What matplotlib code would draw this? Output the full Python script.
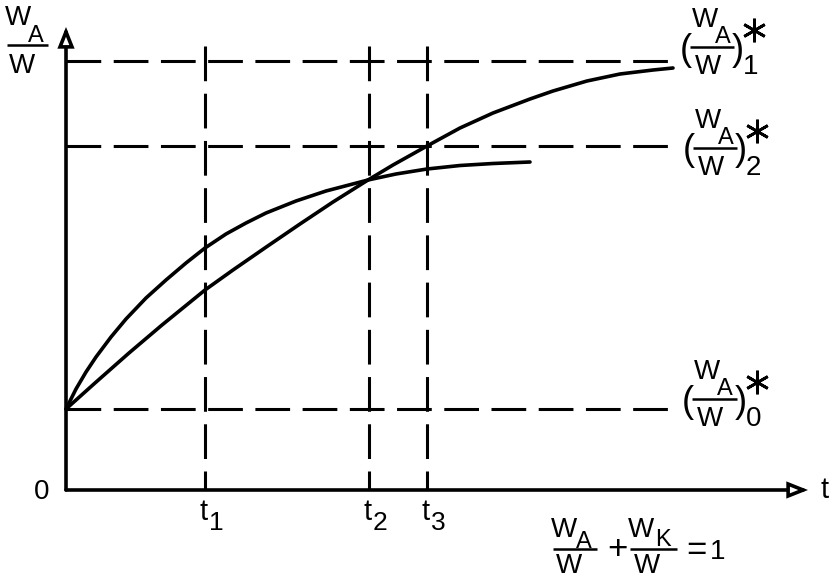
import matplotlib
matplotlib.use("Agg")
import matplotlib.pyplot as plt
from matplotlib.patches import FancyArrowPatch

plt.rcParams['font.family'] = ['Liberation Sans', 'DejaVu Sans']
plt.rcParams['lines.scale_dashes'] = False

# ---- data (diagram units, origin at the axes corner) ----
curve_a_x = [0, 10, 20, 30, 45, 60, 80, 100, 120, 139, 160, 180, 200, 230, 260,
             302, 330, 361, 394, 427, 464]
curve_a_y = [81, 101, 118, 133, 153, 171, 192, 210, 227, 242, 256, 267, 277, 289, 299,
             310, 316, 321, 324.5, 326.5, 328]

curve_b_x = [0, 29, 63, 96, 139, 167, 201, 234, 267, 302, 327, 361, 394, 427, 464,
             487, 521, 554, 587, 607]
curve_b_y = [81, 107, 137, 165, 200, 220, 243.5, 266, 288, 310, 325, 344, 362, 377, 391,
             399, 409, 416, 420, 422]

level_names = ['0', '2', '1']
level_values = [81, 344, 429]
t_names = ['1', '2', '3']
t_values = [139, 303, 361]

# ---- figure: one data unit == one pixel ----
fig = plt.figure(figsize=(8.32, 5.8), dpi=100)
ax = fig.add_axes([0, 0, 1, 1])
ax.set_xlim(-66, 766)
ax.set_ylim(-90, 490)
ax.axis('off')

LW = 2.2
DASH = (25, 9)


def P(px, py):
    return px - 66, 490 - py


# dashed guide lines
for v in level_values:
    ax.plot([0, 606], [v, v], color='k', lw=LW, dashes=DASH)
for t in t_values:
    ax.plot([t, t], [444, 0], color='k', lw=LW, dashes=DASH)

# curves
for cx, cy in [(curve_a_x, curve_a_y), (curve_b_x, curve_b_y)]:
    ax.plot(cx, cy, color='k', lw=LW + 0.4, solid_joinstyle='round',
            solid_capstyle='round')

# axes with open arrow heads
for start, end in [((0, 0), (0, 463)), ((0, 0), (742, 0))]:
    arr = FancyArrowPatch(start, end, arrowstyle='-|>,head_length=10.8,head_width=4.3',
                          mutation_scale=1, lw=LW + 0.4, fc='white', ec='k',
                          shrinkA=0, shrinkB=0, joinstyle='miter')
    ax.add_patch(arr)

FS = 20
SFS = 17


def txt(px, py, s, size=FS, ha='center', va='baseline'):
    x, y = P(px, py)
    ax.text(x, y, s, fontsize=size, ha=ha, va=va, color='k')


def frac(xl, w, yb, sub, num_cx=0.32, sub_l=0.55, den_cx=0.38,
         num_dy=20, sub_dy=4, den_dy=27):
    txt(xl + num_cx * w, yb - num_dy, 'W')
    txt(xl + sub_l * w, yb - sub_dy, sub, size=SFS, ha='left')
    x0, y0 = P(xl, yb)
    ax.plot([x0, x0 + w], [y0, y0], color='k', lw=1.8, solid_capstyle='butt')
    txt(xl + den_cx * w, yb + den_dy, 'W')


def star_label(xl, w, yb, idx):
    frac(xl, w, yb, 'A', num_cx=0.33, sub_l=0.56, den_cx=0.4)
    txt(xl - 4, yb + 3, '(', size=26, va='center')
    txt(xl + w + 4, yb + 3, ')', size=26, va='center')
    txt(xl + w + 9, yb + 27, idx, size=FS, ha='left')
    sx, sy = P(xl + w + 20, yb - 17)
    ax.plot([sx], [sy], marker=(6, 2, 0), ms=17, mew=2.0, color='k')


# level labels on the right
label_pos = {'1': (690, 44, 47), '2': (693, 44, 148), '0': (692, 45, 399)}
for name, v in zip(level_names, level_values):
    xl, w, yb = label_pos[name]
    star_label(xl, w, yb, name)

# y axis label
frac(7, 41, 45, 'A', num_cx=0.27, sub_l=0.5, den_cx=0.36, num_dy=20, sub_dy=3, den_dy=28)

# origin and t
txt(42, 499, '0', size=FS)
txt(825, 498, 't', size=21)

# t_i labels
for name, t in zip(t_names, t_values):
    px = t + 66
    txt(px - 1, 520, 't', size=21)
    txt(px + 4, 530, name, size=19, ha='left')

# equation
frac(553, 44, 549, 'A', num_cx=0.26, sub_l=0.53, den_cx=0.36, num_dy=12, sub_dy=1, den_dy=24)
txt(617, 550, '+', size=25, va='center')
frac(630, 47, 549, 'K', num_cx=0.24, sub_l=0.53, den_cx=0.36, num_dy=12, sub_dy=3, den_dy=24)
txt(696, 551, '=', size=25, va='center')
txt(718, 559, '1', size=FS)

fig.savefig('out.png', dpi=100)
